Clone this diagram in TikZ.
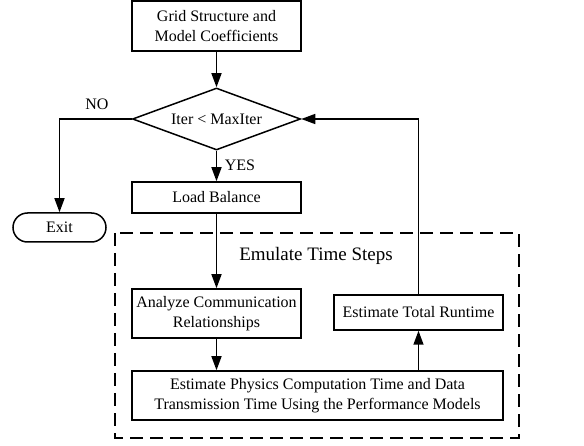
\documentclass[tikz,border=0pt]{standalone}
\usepackage{fontspec}
\setmainfont{Liberation Serif}
\usetikzlibrary{shapes.geometric,arrows.meta,calc}
\begin{document}
\begin{tikzpicture}[x=1pt,y=1pt,
  every node/.style={font=\fontsize{16}{20}\selectfont},
  box/.style={draw,line width=1.5pt,rectangle,inner sep=0pt,align=center},
  dia/.style={draw,line width=1.5pt,diamond,inner sep=0pt,aspect=2.7,minimum width=168pt,minimum height=62pt},
  arr/.style={line width=1.5pt,-{Triangle[length=14pt,width=10pt]}},
  lbl/.style={inner sep=0pt}]
\useasboundingbox (0,0) rectangle (584,-446);
\node[box,minimum width=169pt,minimum height=50pt] (grid) at (216.5,-26) {Grid Structure and\\Model Coefficients};
\node[dia] (cond) at (216.5,-119) {Iter < MaxIter};
\node[box,minimum width=169pt,minimum height=31pt] (load) at (216.5,-197.5) {Load Balance};
\node[box,rounded corners=14.5pt,minimum width=93pt,minimum height=29pt] (exit) at (59.5,-227.5) {Exit};
\draw[line width=1.5pt,dash pattern=on 13pt off 7pt] (115,-233) rectangle (519,-438);
\node[lbl,font=\fontsize{19}{23}\selectfont] (emu) at (316,-256) {Emulate Time Steps};
\node[box,minimum width=169pt,minimum height=49pt] (ana) at (216.5,-313.5) {Analyze Communication\\Relationships};
\node[box,minimum width=169pt,minimum height=35pt] (run) at (418.5,-312.5) {Estimate Total Runtime};
\node[box,minimum width=371pt,minimum height=49pt] (phys) at (317.5,-395.5) {Estimate Physics Computation Time and Data\\Transmission Time Using the Performance Models};
\node[lbl] (no) at (97,-104) {NO};
\node[lbl] (yes) at (240,-165) {YES};
\draw[arr] (grid.south) -- (cond.north);
\draw[arr] (cond.south) -- (load.north);
\draw[arr] (cond.west) -| (exit.north);
\draw[arr] (load.south) -- (ana.north);
\draw[arr] (ana.south) -- (ana.south |- phys.north);
\draw[arr] (phys.north -| run.south) -- (run.south);
\draw[arr] (run.north) |- (cond.east);
\end{tikzpicture}
\end{document}
